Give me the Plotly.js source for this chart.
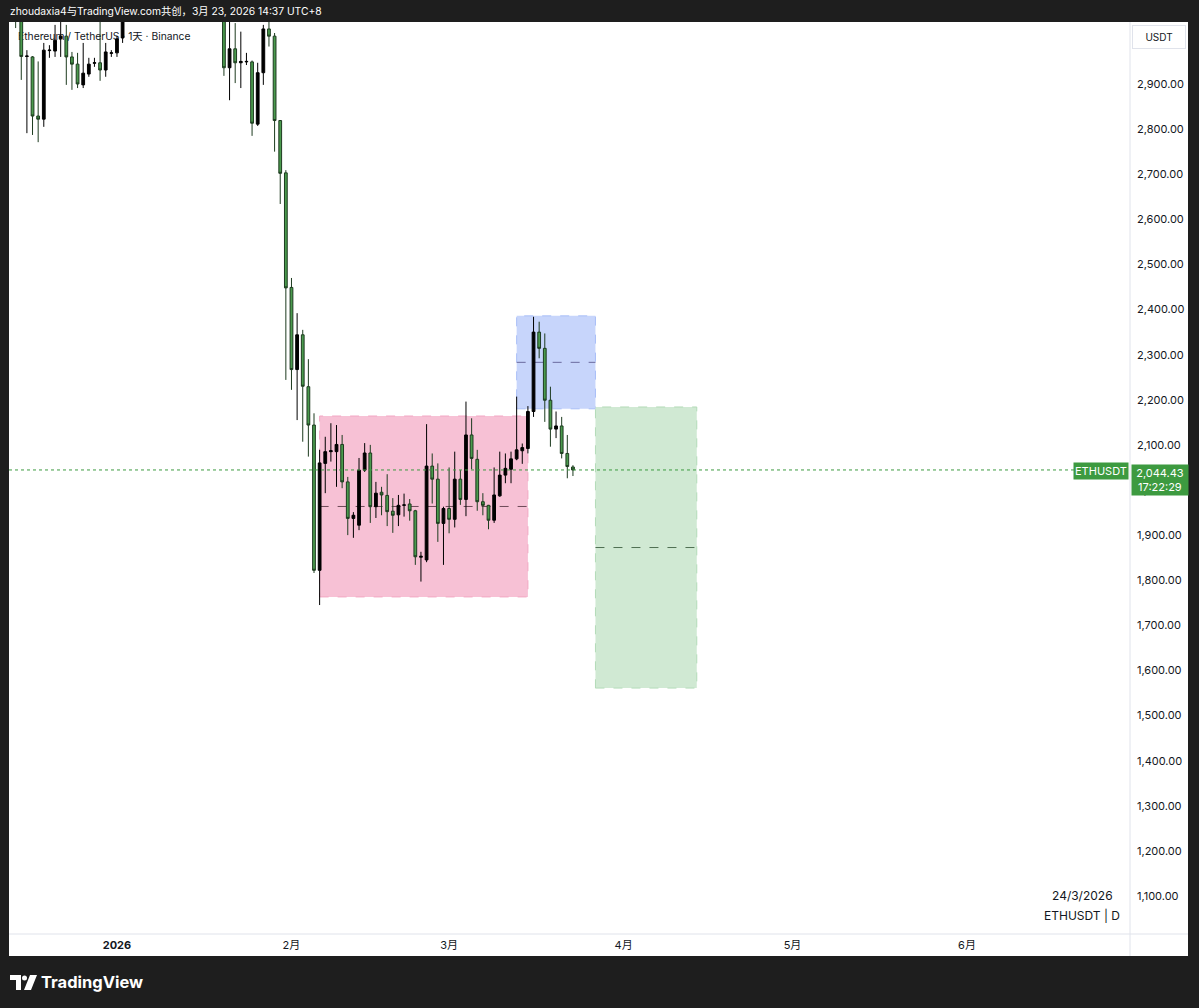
<!DOCTYPE html>
<html><head><meta charset="utf-8">
<script src="https://cdn.plot.ly/plotly-3.0.1.min.js"></script>
<style>html,body{margin:0;padding:0;background:#1e1e1e;}#chart{width:1199px;height:1008px;}</style>
</head><body><div id="chart"></div>
<script>
// ---- data ----
const dates = [
'2025-12-14','2025-12-15','2025-12-16','2025-12-17','2025-12-18','2025-12-19','2025-12-20','2025-12-21','2025-12-22','2025-12-23',
'2025-12-24','2025-12-25','2025-12-26','2025-12-27','2025-12-28','2025-12-29','2025-12-30','2025-12-31',
'2026-01-01','2026-01-02','2026-01-03','2026-01-04','2026-01-05','2026-01-06','2026-01-07','2026-01-08','2026-01-09','2026-01-10',
'2026-01-11','2026-01-12','2026-01-13','2026-01-14','2026-01-15','2026-01-16','2026-01-17','2026-01-18','2026-01-19','2026-01-20',
'2026-01-21','2026-01-22','2026-01-23','2026-01-24','2026-01-25','2026-01-26','2026-01-27','2026-01-28','2026-01-29','2026-01-30','2026-01-31',
'2026-02-01','2026-02-02','2026-02-03','2026-02-04','2026-02-05','2026-02-06','2026-02-07','2026-02-08','2026-02-09','2026-02-10',
'2026-02-11','2026-02-12','2026-02-13','2026-02-14','2026-02-15','2026-02-16','2026-02-17','2026-02-18','2026-02-19','2026-02-20',
'2026-02-21','2026-02-22','2026-02-23','2026-02-24','2026-02-25','2026-02-26','2026-02-27','2026-02-28',
'2026-03-01','2026-03-02','2026-03-03','2026-03-04','2026-03-05','2026-03-06','2026-03-07','2026-03-08','2026-03-09','2026-03-10',
'2026-03-11','2026-03-12','2026-03-13','2026-03-14','2026-03-15','2026-03-16','2026-03-17','2026-03-18','2026-03-19','2026-03-20',
'2026-03-21','2026-03-22','2026-03-23'];
const open = [
3100,3085,2961,2960,2829,2822,2974,2973,3000,3006,
2960,2944,2898,2922,2946,2947,2931,2968,
2969,3002,3120,3110,3140,3230,3290,3160,3110,3085,
3080,3120,3090,3320,3350,3310,3290,3305,3280,3190,
2936,2978,2947,2949,2949,2811,2925,3022,3006,2819,2703,
2449,2267,2344,2229,2144,1822,2059,2085,2085,2101,
2018,1937,1922,2044,2082,1963,1995,1988,1953,1945,
1966,1969,1954,1851,1845,2053,2024,1926,
1959,1935,2024,1979,2122,2068,1974,1966,1933,1987,
2033,2046,2069,2087,2092,2174,2350,2314,2199,2135,
2142,2081,2051];
const high = [
3140,3110,2975,2962,2950,2991,2986,3031,3042,3031,
2971,2969,2991,2958,2958,3042,2991,2975,
3006,3140,3150,3170,3250,3300,3300,3180,3150,3100,
3140,3160,3330,3400,3370,3320,3320,3340,3290,3200,
3045,3035,3016,2969,2952,2947,3031,3042,3013,2820,2709,
2470,2392,2355,2290,2170,2089,2118,2148,2144,2122,
2029,1951,2071,2104,2100,2018,2007,2035,1982,1989,
1992,1980,1956,1863,2146,2081,2059,1963,
2050,2085,2044,2196,2159,2089,1993,1967,2050,2085,
2081,2085,2207,2103,2186,2384,2373,2347,2229,2174,
2162,2122,2055];
const low = [
3024,2909,2791,2787,2771,2805,2958,2960,2960,2898,
2887,2891,2891,2916,2938,2907,2916,2960,
2960,2991,3090,3100,3130,3190,3140,3060,3060,3070,
3070,3070,3080,3300,3280,3260,3280,3270,3150,2918,
2864,2902,2891,2942,2785,2807,2898,2983,2750,2634,2244,
2222,2155,2107,2074,1816,1745,1993,2063,2007,2004,
1900,1894,1911,2040,1927,1938,1944,1920,1905,1920,
1941,1932,1834,1797,1840,1970,1885,1834,
1904,1917,1967,1942,2046,1954,1944,1913,1927,1985,
2015,2015,2066,2058,2081,2162,2292,2151,2096,2115,
2070,2026,2031];
const close = [
3085,2961,2962,2829,2822,2975,2975,2997,3006,2960,
2944,2900,2924,2944,2947,2931,2971,2969,
3000,3120,3110,3140,3230,3290,3160,3110,3085,3080,
3120,3090,3320,3350,3310,3290,3305,3280,3190,2936,
2978,2947,2950,2950,2813,2925,3022,3006,2819,2702,2448,
2267,2344,2230,2144,1822,2060,2085,2087,2101,2018,
1937,1944,2044,2082,1963,1993,1989,1952,1944,1966,
1967,1954,1852,1853,2053,2024,1926,1959,
1935,2024,1979,2122,2070,1974,1966,1933,1989,2033,
2048,2069,2089,2094,2174,2350,2314,2199,2135,2142,
2081,2052,2044.43];

const monthTicks = ['2026-01-01','2026-02-01','2026-03-01','2026-04-01','2026-05-01','2026-06-01'];
const monthLabels = ['<b>2026</b>','2月','3月','4月','5月','6月'];
const priceTicks = [1100,1200,1300,1400,1500,1600,1700,1800,1900,2000,2100,2200,2300,2400,2500,2600,2700,2800,2900];
const priceLabels = ['1,100.00','1,200.00','1,300.00','1,400.00','1,500.00','1,600.00','1,700.00','1,800.00','1,900.00','2,000.00',
                     '2,100.00','2,200.00','2,300.00','2,400.00','2,500.00','2,600.00','2,700.00','2,800.00','2,900.00'];
const lastPrice = 2044.43;
const lastPriceLabel = '2,044.43<br>17:22:29';

// drawn zones (pink range, blue target, green projection)
const zoneStart  = ['2026-02-06','2026-03-13','2026-03-27'];
const zoneEnd    = ['2026-03-15','2026-03-27','2026-04-14'];
const zoneTop    = [2164, 2386, 2184];
const zoneBottom = [1763, 2180, 1561];

// ---- styling / helpers ----
const FONT = "Inter, 'Noto Sans CJK SC', 'Noto Sans', sans-serif";
const L = 9, T = 22, W = 1121, H = 912;
const px = x => (x - L) / W;          // pixel -> paper x
const py = y => (T + H - y) / H;       // pixel -> paper y
const zoneFill = ['#f7c1d5', '#c7d5fb', '#d0e9d3'];
const zoneEdge = ['#f2a7c3', '#a9bef7', '#b3dbb8'];
const zoneMid  = ['#6e4a58', '#6a6a9e', '#4f6f52'];
const GREEN = '#3d9a40';

const shapes = [];
shapes.push({type:'rect', xref:'paper', yref:'paper', x0:1, x1:px(1188), y0:py(956), y1:1, fillcolor:'#ffffff', line:{width:0}, layer:'below'});
shapes.push({type:'rect', xref:'paper', yref:'paper', x0:0, x1:px(1188), y0:py(956), y1:0, fillcolor:'#ffffff', line:{width:0}, layer:'below'});
shapes.push({type:'line', xref:'paper', yref:'paper', x0:1, x1:1, y0:py(956), y1:1, line:{color:'#e0e3eb', width:1}});
shapes.push({type:'line', xref:'paper', yref:'paper', x0:0, x1:px(1188), y0:0, y1:0, line:{color:'#e0e3eb', width:1}});

for (let i = 0; i < zoneStart.length; i++) {
  shapes.push({type:'rect', xref:'x', yref:'y', x0:zoneStart[i], x1:zoneEnd[i], y0:zoneBottom[i], y1:zoneTop[i],
    fillcolor:zoneFill[i], line:{color:zoneEdge[i], width:1, dash:'dash'}, layer:'below'});
  const mid = (zoneTop[i] + zoneBottom[i]) / 2;
  shapes.push({type:'line', xref:'x', yref:'y', x0:zoneStart[i], x1:zoneEnd[i], y0:mid, y1:mid,
    line:{color:zoneMid[i], width:1, dash:'dash'}, layer:'below'});
}
shapes.push({type:'rect', xref:'paper', yref:'paper', x0:px(12), x1:px(320), y0:py(43), y1:py(29),
  line:{width:0}, fillcolor:'rgba(0,0,0,0)', layer:'below',
  label:{text:'Ethereum / TetherUS · 1天 · Binance', textposition:'middle left', padding:3,
         font:{family:FONT, size:10.3, color:'#131722'}}});
shapes.push({type:'line', xref:'paper', yref:'y', x0:0, x1:1, y0:lastPrice, y1:lastPrice,
  line:{color:GREEN, width:1, dash:'dot'}});
// TradingView logo mark
shapes.push({type:'path', xref:'paper', yref:'paper', fillcolor:'#ffffff', line:{width:0},
  path:`M${px(10)},${py(975)} L${px(21)},${py(975)} L${px(21)},${py(990)} L${px(16)},${py(990)} L${px(16)},${py(980)} L${px(10)},${py(980)} Z`});
shapes.push({type:'circle', xref:'paper', yref:'paper', fillcolor:'#ffffff', line:{width:0},
  x0:px(22), x1:px(27), y0:py(980.5), y1:py(975.5)});
shapes.push({type:'path', xref:'paper', yref:'paper', fillcolor:'#ffffff', line:{width:0},
  path:`M${px(30)},${py(975)} L${px(37)},${py(975)} L${px(31)},${py(990)} L${px(24)},${py(990)} Z`});

const annotations = [
  {xref:'paper', yref:'paper', x:px(8), y:py(11), xanchor:'left', yanchor:'middle', showarrow:false,
   text:'zhoudaxia4与TradingView.com共创，3月 23, 2026 14:37 UTC+8', font:{family:FONT, size:10.3, color:'#ffffff'}},
  {xref:'paper', yref:'paper', x:px(1159), y:py(36.5), xanchor:'center', yanchor:'middle', showarrow:false,
   text:'USDT', font:{family:FONT, size:10, color:'#131722'}, bgcolor:'#ffffff', bordercolor:'#e0e3eb', borderwidth:1, borderpad:5, width:42},
  {xref:'paper', yref:'y', x:px(1129), y:lastPrice, xanchor:'right', yanchor:'middle', yshift:-1, showarrow:false,
   text:'ETHUSDT', font:{family:FONT, size:11, color:'#ffffff'}, bgcolor:GREEN, borderpad:1},
  {xref:'paper', yref:'y', x:px(1131), y:lastPrice, xanchor:'left', yanchor:'top', yshift:6, showarrow:false,
   text:lastPriceLabel, font:{family:FONT, size:11, color:'#ffffff'}, bgcolor:GREEN, borderpad:1, width:54, align:'center'},
  {xref:'paper', yref:'paper', x:px(1082), y:py(895), xanchor:'center', yanchor:'middle', showarrow:false,
   text:'24/3/2026', font:{family:FONT, size:12, color:'#131722'}},
  {xref:'paper', yref:'paper', x:px(1082), y:py(915), xanchor:'center', yanchor:'middle', showarrow:false,
   text:'ETHUSDT | D', font:{family:FONT, size:12, color:'#131722'}},
  {xref:'paper', yref:'paper', x:px(39), y:py(982), xanchor:'left', yanchor:'middle', showarrow:false,
   text:'<b>TradingView</b>', font:{family:FONT, size:16.5, color:'#ffffff'}}
];

const trace = {
  type:'candlestick', x:dates, open:open, high:high, low:low, close:close,
  increasing:{line:{color:'#000000', width:1}, fillcolor:'#000000'},
  decreasing:{line:{color:'#1d3b1f', width:1}, fillcolor:'#4a9a4d'},
  whiskerwidth:0, hoverinfo:'skip', showlegend:false
};

const layout = {
  width:1199, height:1008,
  margin:{l:L, r:1199-L-W, t:T, b:1008-T-H, pad:0},
  paper_bgcolor:'#1e1e1e', plot_bgcolor:'#ffffff',
  showlegend:false, hovermode:false,
  font:{family:FONT, size:11, color:'#131722'},
  xaxis:{type:'date', range:['2025-12-12 19:40','2026-06-29 23:00'], rangeslider:{visible:false},
         showgrid:false, zeroline:false, showline:false, ticks:'', ticklabelstandoff:3,
         tickmode:'array', tickvals:monthTicks, ticktext:monthLabels,
         tickfont:{family:FONT, size:11, color:'#131722'}, fixedrange:true},
  yaxis:{side:'right', range:[1015.8, 3037.4], tickmode:'array', tickvals:priceTicks, ticktext:priceLabels,
         showgrid:false, zeroline:false, showline:false, ticks:'', ticklabelstandoff:6,
         tickfont:{family:FONT, size:11, color:'#131722'}, fixedrange:true},
  shapes:shapes, annotations:annotations
};

Plotly.newPlot('chart', [trace], layout, {displayModeBar:false, staticPlot:true});
</script></body></html>
